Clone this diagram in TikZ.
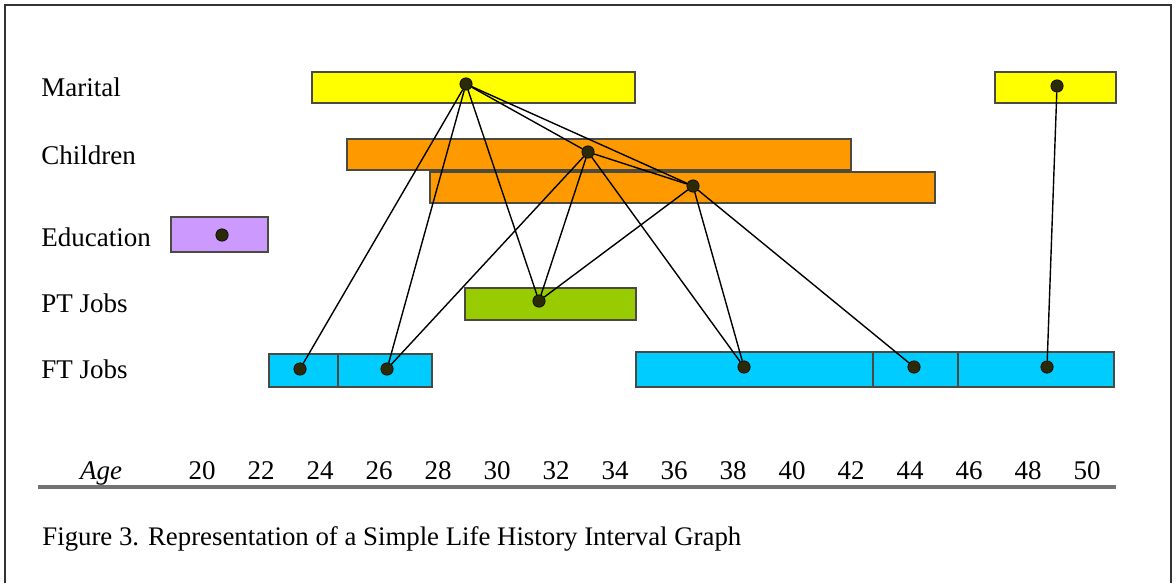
\documentclass[tikz,border=0pt]{standalone}
\usepackage{fontspec}
\setmainfont{Liberation Serif}
\usetikzlibrary{calc}

\definecolor{marcol}{HTML}{FFFF00}
\definecolor{chcol}{HTML}{FF9900}
\definecolor{edcol}{HTML}{CC99FF}
\definecolor{ptcol}{HTML}{99CC00}
\definecolor{ftcol}{HTML}{00CCFF}
\definecolor{barline}{HTML}{4A4A40}
\definecolor{dotcol}{HTML}{2A2A08}

\tikzset{
  bar/.style={draw=barline, line width=0.8pt},
  dot/.style={circle, fill=dotcol, draw=black, line width=0.3pt, inner sep=0pt, minimum size=6.2pt},
  link/.style={black, line width=0.7pt},
  rowlabel/.style={anchor=base west, inner sep=0pt, font=\fontsize{13.5}{16}\selectfont},
  agelabel/.style={anchor=base, inner sep=0pt, font=\fontsize{13.5}{15}\selectfont}
}

\begin{document}
\begin{tikzpicture}[x=0.5pt,y=-0.5pt]
\useasboundingbox (0,0) rectangle (1176,583);
% frame
\draw[line width=1.2pt, black!80] (5,583) -- (5,5) -- (1171,5) -- (1171,583);
% row names
\node[rowlabel] (lmar) at (41,97) {Marital};
\node[rowlabel] (lchi) at (41,164) {Children};
\node[rowlabel] (ledu) at (41,246) {Education};
\node[rowlabel] (lpt) at (41,312) {PT Jobs};
\node[rowlabel] (lft) at (41,378) {FT Jobs};
% the bars
%     marital
\draw[bar, fill=marcol] (312,72) rectangle (635,103);
\draw[bar, fill=marcol] (995,72) rectangle (1116,103);
%     children
\draw[bar, fill=chcol] (347,139) rectangle (851,170);
\draw[bar, fill=chcol] (430,172) rectangle (935,203);
%     education and part time
\draw[bar, fill=edcol] (171,217) rectangle (268,252);
\draw[bar, fill=ptcol] (465,288) rectangle (636,320);
%     full time
\draw[bar, fill=ftcol] (269,354) rectangle (338,387);
\draw[bar, fill=ftcol] (338,354) rectangle (432,387);
\draw[bar, fill=ftcol] (636,352) rectangle (873,387);
\draw[bar, fill=ftcol] (873,352) rectangle (958,387);
\draw[bar, fill=ftcol] (958,352) rectangle (1114,387);
% the dots
\node[dot] (m1) at (466,84) {};
\node[dot] (m2) at (1057,86) {};
\node[dot] (c1) at (588,152) {};
\node[dot] (c2) at (693,186) {};
\node[dot] (e1) at (222,235) {};
\node[dot] (p1) at (539,301) {};
\node[dot] (f1) at (300,369) {};
\node[dot] (f2) at (387,369) {};
\node[dot] (f3) at (744,367) {};
\node[dot] (f4) at (914,367) {};
\node[dot] (f5) at (1047,367) {};
% the edges
\draw[link] (m1) -- (f1);
\draw[link] (m1) -- (f2);
\draw[link] (m1) -- (p1);
\draw[link] (m1) -- (c1);
\draw[link] (m1) -- (c2);
\draw[link] (c1) -- (c2);
\draw[link] (c1) -- (f2);
\draw[link] (c1) -- (p1);
\draw[link] (c1) -- (f3);
\draw[link] (c2) -- (p1);
\draw[link] (c2) -- (f3);
\draw[link] (c2) -- (f4);
\draw[link] (m2) -- (f5);
% age axis
\node[agelabel, font=\fontsize{13.5}{15}\selectfont\itshape] (age) at (101,479) {Age};
\foreach \a [count=\i from 0] in {20,22,...,50}
  \node[agelabel] (t\a) at (202+59*\i,479) {\a};
\coordinate (axl) at (38,487);
\coordinate (axr) at (1116,487);
\draw[line width=2pt, black!55] (axl) -- (axr);
% caption
\node[anchor=base west, inner sep=0pt, font=\fontsize{13.4}{15}\selectfont] (cap) at (42,545)
  {Figure 3. Representation of a Simple Life History Interval Graph};
\end{tikzpicture}
\end{document}
